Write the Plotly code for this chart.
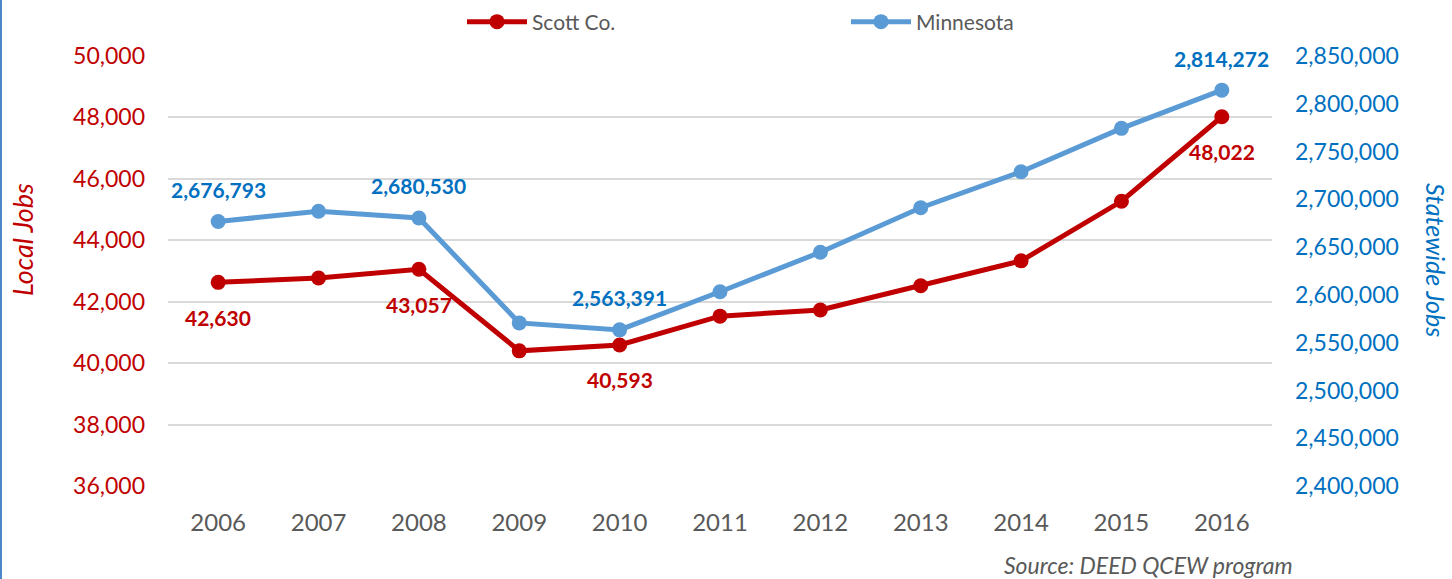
import plotly.graph_objects as go

years = ["2006", "2007", "2008", "2009", "2010", "2011", "2012", "2013", "2014", "2015", "2016"]
scott = [42630, 42770, 43057, 40400, 40593, 41530, 41730, 42520, 43330, 45270, 48022]
minnesota = [2676793, 2687600, 2680530, 2570700, 2563391, 2603300, 2644600, 2691200, 2728900, 2774300, 2814272]
scott_labeled = [0, 2, 4, 10]
mn_labeled = [0, 2, 4, 10]

RED = "#C00000"
BLUE_LINE = "#5B9BD5"
BLUE_TEXT = "#0070C0"
GRAY = "#595959"
FONT = "Lato"

W, H = 1452, 579
ML, MR, MT, MB = 168, 180, 56, 93
PW = W - ML - MR
PH = H - MT - MB

fig = go.Figure()
fig.add_trace(go.Scatter(
    x=years, y=scott, name="Scott Co.", mode="lines+markers",
    line=dict(color=RED, width=5), marker=dict(color=RED, size=15),
    yaxis="y",
))
fig.add_trace(go.Scatter(
    x=years, y=minnesota, name="Minnesota", mode="lines+markers",
    line=dict(color=BLUE_LINE, width=5), marker=dict(color=BLUE_LINE, size=15),
    yaxis="y2",
))

annotations = []
for i in scott_labeled:
    annotations.append(dict(
        x=i, y=scott[i], xref="x", yref="y", text=f"<b>{scott[i]:,}</b>",
        showarrow=False, yshift=-35, font=dict(family=FONT, size=21, color=RED),
    ))
for i in mn_labeled:
    annotations.append(dict(
        x=i, y=minnesota[i], xref="x", yref="y2", text=f"<b>{minnesota[i]:,}</b>",
        showarrow=False, yshift=32, font=dict(family=FONT, size=21, color=BLUE_TEXT),
    ))

def px_x(p):
    return (p - ML) / PW

def px_y(p):
    return 1 - (p - MT) / PH

annotations.append(dict(
    x=px_x(22), y=px_y(240), xref="paper", yref="paper", text="<i>Local Jobs</i>",
    textangle=-90, showarrow=False, xanchor="center", yanchor="middle",
    font=dict(family=FONT, size=27, color=RED),
))
annotations.append(dict(
    x=px_x(1436), y=px_y(260), xref="paper", yref="paper", text="<i>Statewide Jobs</i>",
    textangle=90, showarrow=False, xanchor="center", yanchor="middle",
    font=dict(family=FONT, size=25, color=BLUE_TEXT),
))
annotations.append(dict(
    x=px_x(1295), y=px_y(565), xref="paper", yref="paper", text="<i>Source: DEED QCEW program</i>",
    showarrow=False, xanchor="right", yanchor="middle",
    font=dict(family=FONT, size=23, color=GRAY),
))

fig.update_layout(
    width=W, height=H,
    margin=dict(l=ML, r=MR, t=MT, b=MB, autoexpand=False),
    paper_bgcolor="white", plot_bgcolor="white",
    showlegend=True,
    legend=dict(
        orientation="h", x=px_x(462), y=px_y(22), xanchor="left", yanchor="middle",
        font=dict(family=FONT, size=21, color=GRAY),
        entrywidth=309, entrywidthmode="pixels", itemwidth=60,
        bgcolor="rgba(0,0,0,0)",
    ),
    xaxis=dict(
        type="category", range=[-0.5, 10.5], showgrid=False, zeroline=False, showline=False,
        ticks="", tickfont=dict(family=FONT, size=24, color=GRAY), ticklabelstandoff=20,
    ),
    yaxis=dict(
        range=[36000, 50000], dtick=2000, tickformat=",", showgrid=True,
        gridcolor="#D9D9D9", gridwidth=1.5, zeroline=False, showline=False, ticks="",
        tickfont=dict(family=FONT, size=23, color=RED), ticklabelstandoff=22,
    ),
    yaxis2=dict(
        range=[2400000, 2850000], dtick=50000, tickformat=",", overlaying="y", side="right",
        showgrid=False, zeroline=False, showline=False, ticks="",
        tickfont=dict(family=FONT, size=23, color=BLUE_TEXT), ticklabelstandoff=22,
    ),
    annotations=annotations,
    shapes=[dict(
        type="line", xref="paper", yref="paper",
        x0=px_x(1), x1=px_x(1), y0=px_y(0), y1=px_y(H),
        line=dict(color="#4A86C8", width=2),
    )],
)

fig.write_html(
    "out.html",
    config={"displayModeBar": False},
    post_script="document.body.style.margin='0';document.body.style.overflow='hidden';",
)
